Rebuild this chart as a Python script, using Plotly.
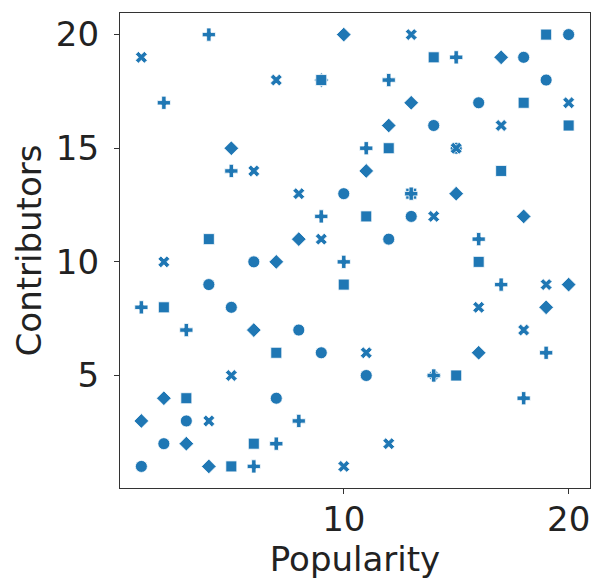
import plotly.graph_objects as go

# Data: (Popularity, Contributors) pairs per marker style group (visible points)
circle_x = [15, 20, 8, 18, 19, 16, 14, 10, 13, 12, 6, 4, 5, 9, 11, 7, 3, 2, 1]
circle_y = [15, 20, 7, 19, 18, 17, 16, 13, 12, 11, 10, 9, 8, 6, 5, 4, 3, 2, 1]

xmark_x = [15, 13, 1, 7, 20, 17, 6, 8, 14, 9, 2, 19, 16, 18, 11, 5, 4, 12, 10]
xmark_y = [15, 20, 19, 18, 17, 16, 14, 13, 12, 11, 10, 9, 8, 7, 6, 5, 3, 2, 1]

square_x = [13, 17, 3, 9, 20, 19, 14, 18, 12, 11, 4, 16, 10, 2, 7, 15, 6, 5]
square_y = [13, 14, 4, 18, 16, 20, 19, 17, 15, 12, 11, 10, 9, 8, 6, 5, 2, 1]

plus_x = [13, 14, 4, 15, 12, 2, 11, 5, 9, 16, 10, 17, 1, 3, 19, 18, 8, 7, 6]
plus_y = [13, 5, 20, 19, 18, 17, 15, 14, 12, 11, 10, 9, 8, 7, 6, 4, 3, 2, 1]

diamond_x = [14, 9, 1, 10, 17, 13, 12, 5, 11, 15, 18, 8, 7, 20, 19, 6, 16, 2, 3, 4]
diamond_y = [5, 18, 3, 20, 19, 17, 16, 15, 14, 13, 12, 11, 10, 9, 8, 7, 6, 4, 2, 1]

groups = [
    ("circle", circle_x, circle_y),
    ("x", xmark_x, xmark_y),
    ("square", square_x, square_y),
    ("cross", plus_x, plus_y),
    ("diamond", diamond_x, diamond_y),
]
sym_size = {"circle": 12, "x": 10.5, "square": 11, "cross": 11, "diamond": 11.3}

# interleave rows (as the rows of a long-form table) so overlaps draw in order
xs, ys, syms, sizes = [], [], [], []
n = max(len(g[1]) for g in groups)
for i in range(n):
    for sym, gx, gy in groups:
        if i < len(gx):
            xs.append(gx[i])
            ys.append(gy[i])
            syms.append(sym)
            sizes.append(sym_size[sym])

fig = go.Figure()
fig.add_trace(go.Scatter(
    x=xs, y=ys, mode="markers",
    marker=dict(symbol=syms, size=sizes, color="#1f77b4", opacity=1,
                line=dict(color="white", width=0.8)),
    showlegend=False, hoverinfo="x+y",
))

font = dict(family="DejaVu Sans", size=34, color="#222222")
axis_common = dict(
    showgrid=False, zeroline=False, showline=True, linecolor="#333333",
    linewidth=1.3, mirror=True, ticks="outside", ticklen=5, tickwidth=1.2,
    tickcolor="#333333", tickfont=font, automargin=False,
)
fig.update_xaxes(range=[0.05, 20.95], tickvals=[10, 20], ticklabelstandoff=-4,
                 title=dict(text="Popularity", font=font, standoff=2), **axis_common)
fig.update_yaxes(range=[0.05, 20.95], tickvals=[5, 10, 15, 20], ticklabelstandoff=8,
                 title=dict(text="Contributors", font=font, standoff=3), **axis_common)

fig.update_layout(
    width=594, height=584,
    margin=dict(l=120, r=4, t=13, b=96),
    paper_bgcolor="white", plot_bgcolor="white",
    font=font,
)
fig.write_html("out.html", config={"displayModeBar": False},
               post_script="document.body.style.margin='0';document.body.style.overflow='hidden';")
